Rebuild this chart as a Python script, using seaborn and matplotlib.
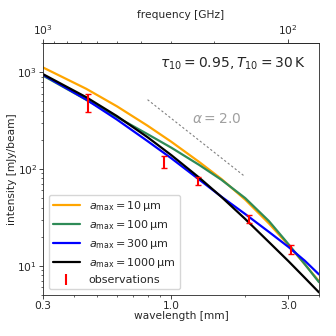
import numpy as np
import pandas as pd
import matplotlib
matplotlib.use("Agg")
import matplotlib.pyplot as plt
import seaborn as sns
from matplotlib.ticker import NullFormatter, FixedLocator, FixedFormatter
from matplotlib.lines import Line2D

sns.set_style("ticks")
plt.rcParams['font.family'] = ['DejaVu Sans']
plt.rcParams['mathtext.fontset'] = 'dejavusans'

# wavelength grid [mm]
wavelength = [0.3, 0.45, 0.6, 0.8, 1.0, 1.3, 1.6, 2.0, 2.5, 3.0, 3.5, 4.0]
# model intensities [mJy/beam]
I_a10 = [1117, 673, 444, 280, 191, 118, 78.9, 48.3, 27.4, 16.4, 10.4, 6.93]
I_a100 = [920, 518, 344, 229, 166, 110, 77.4, 50.1, 29.0, 16.8, 10.4, 6.78]
I_a300 = [938, 521, 324, 194, 129, 77.6, 51.8, 34.3, 22.4, 15.7, 11.3, 8.15]
I_a1000 = [953, 551, 352, 213, 139, 81.3, 51.5, 30.5, 17.6, 11.2, 7.53, 5.32]
labels = [r'$a_{\rm max} = 10\,\mathrm{\mu m}$',
          r'$a_{\rm max} = 100\,\mathrm{\mu m}$',
          r'$a_{\rm max} = 300\,\mathrm{\mu m}$',
          r'$a_{\rm max} = 1000\,\mathrm{\mu m}$']
colors = ['#FFA500', '#2E8B57', '#0000FF', '#000000']

# observations
obs_lam = [0.457, 0.93, 1.29, 2.07, 3.08]
obs_I = [490, 119, 76, 30.5, 14.9]
obs_err = [100, 17, 7.5, 3.0, 1.6]

# alpha = 2 reference line
alpha_lam = [0.8, 2.0]
alpha_I = [520, 83.2]

# tick values
x_ticks = [0.3, 1.0, 3.0]
x_ticklabels = ['0.3', '1.0', '3.0']
freq_major = [100, 1000]
freq_minor = [200, 300, 400, 500, 600, 700, 800, 900]

df = pd.DataFrame({
    'wavelength': wavelength * 4,
    'intensity': I_a10 + I_a100 + I_a300 + I_a1000,
    'model': sum([[l] * len(wavelength) for l in labels], []),
})

fs = 7.7
fig = plt.figure(figsize=(3.36, 3.36), dpi=100)
ax = fig.add_axes([43/336, 41/336, 276/336, 252/336])

sns.lineplot(data=df, x='wavelength', y='intensity', hue='model',
             palette=dict(zip(labels, colors)), hue_order=labels,
             linewidth=1.6, ax=ax, legend=False, sort=False)
ax.errorbar(obs_lam, obs_I, yerr=obs_err, fmt='none', ecolor='red',
            elinewidth=1.5, capsize=2, capthick=1, zorder=5)
ax.plot(alpha_lam, alpha_I, linestyle='--', color='gray', linewidth=0.8, dashes=(2, 2))
ax.text(1.53, 327, r'$\alpha = 2.0$', color='#a0a0a0', fontsize=10,
        ha='center', va='center')
ax.text(0.95, 0.917, r'$\tau_{10} = 0.95, T_{10} = 30\,\mathrm{K}$',
        transform=ax.transAxes, ha='right', va='center', fontsize=10)

c = 299.792458
ax.set_xscale('log')
ax.set_yscale('log')
ax.set_xlim(c / 1000, 4.0)
ax.set_ylim(5, 2000)
ax.xaxis.set_major_locator(FixedLocator(x_ticks))
ax.xaxis.set_major_formatter(FixedFormatter(x_ticklabels))
ax.xaxis.set_minor_formatter(NullFormatter())
for s in ax.spines.values():
    s.set_linewidth(0.6)
ax.tick_params(which='major', labelsize=fs, length=2.6, width=0.6, pad=1.6)
ax.tick_params(which='minor', length=1.5, width=0.5)
ax.set_xlabel('wavelength [mm]', fontsize=fs, labelpad=0)
ax.set_ylabel('intensity [mJy/beam]', fontsize=fs, labelpad=0.5)

sec = ax.secondary_xaxis('top', functions=(lambda x: c / x, lambda x: c / x))
sec.xaxis.set_major_locator(FixedLocator(freq_major))
sec.xaxis.set_minor_locator(FixedLocator(freq_minor))
sec.xaxis.set_minor_formatter(NullFormatter())
sec.tick_params(which='major', labelsize=fs, length=2.6, width=0.6, pad=1.6)
sec.tick_params(which='minor', length=1.5, width=0.5)
sec.spines['top'].set_linewidth(0.6)
sec.set_xlabel('frequency [GHz]', fontsize=fs, labelpad=4)

handles = [Line2D([], [], color=col, linewidth=1.6) for col in colors]
eb = ax.errorbar([], [], yerr=[], fmt='none', ecolor='red', elinewidth=1.5, capsize=2)
handles.append(eb)
ax.legend(handles, labels + ['observations'], loc='lower left', fontsize=8,
          handlelength=2.4, borderaxespad=0.5, framealpha=0.8, labelspacing=0.45)

fig.savefig('out.png', dpi=100)
